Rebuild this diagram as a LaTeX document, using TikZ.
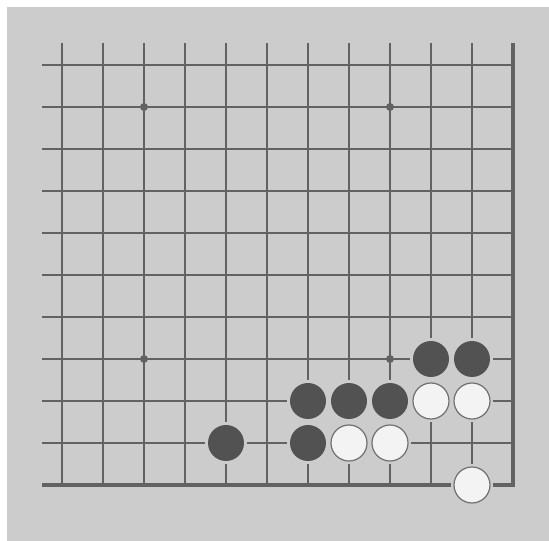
\documentclass[tikz,border=0pt]{standalone}
\usepackage{tikz}
\definecolor{boardgray}{RGB}{204,204,204}
\definecolor{linegray}{RGB}{98,98,98}
\definecolor{stonedark}{RGB}{82,82,82}
\definecolor{stonelight}{RGB}{243,243,243}

\begin{document}
\begin{tikzpicture}[
            x=0.02cm, y=-0.02cm,
            gridline/.style={draw=linegray, line width=1.1pt},
            edgeline/.style={draw=linegray, line width=1.8pt},
            hoshi/.style={circle, fill=linegray, inner sep=0pt, minimum size=0.16cm},
            blackstone/.style={circle, inner sep=0pt, minimum size=0.72cm,
                        preaction={draw=boardgray, line width=3.4pt}, fill=stonedark},
            whitestone/.style={circle, inner sep=0pt, minimum size=0.72cm,
                        preaction={draw=boardgray, line width=3.4pt}, fill=stonelight,
                        draw=linegray!90, line width=0.7pt}
        ]
            \useasboundingbox (0,0) rectangle (549,541);
            \fill[boardgray] (7,7) rectangle (549,541);

            % grid
            \foreach \c in {0,...,10}
                \draw[gridline] ({62+41*\c},43) -- ({62+41*\c},485);
            \foreach \r in {0,...,9}
                \draw[gridline] (42,{65+42*\r}) -- (513,{65+42*\r});
            \draw[edgeline] (513,43) -- (513,485) -- (42,485);

            % star points
            \foreach \c/\r [count=\k] in {2/1, 8/1, 2/7, 8/7}
                \node[hoshi] (h\k) at ({62+41*\c},{65+42*\r}) {};

            % stones
            \foreach \c/\r [count=\k] in {9/7, 10/7, 6/8, 7/8, 8/8, 4/9, 6/9}
                \node[blackstone] (b\k) at ({62+41*\c},{65+42*\r}) {};
            \foreach \c/\r [count=\k] in {9/8, 10/8, 7/9, 8/9, 10/10}
                \node[whitestone] (w\k) at ({62+41*\c},{65+42*\r}) {};
        \end{tikzpicture}
\end{document}
